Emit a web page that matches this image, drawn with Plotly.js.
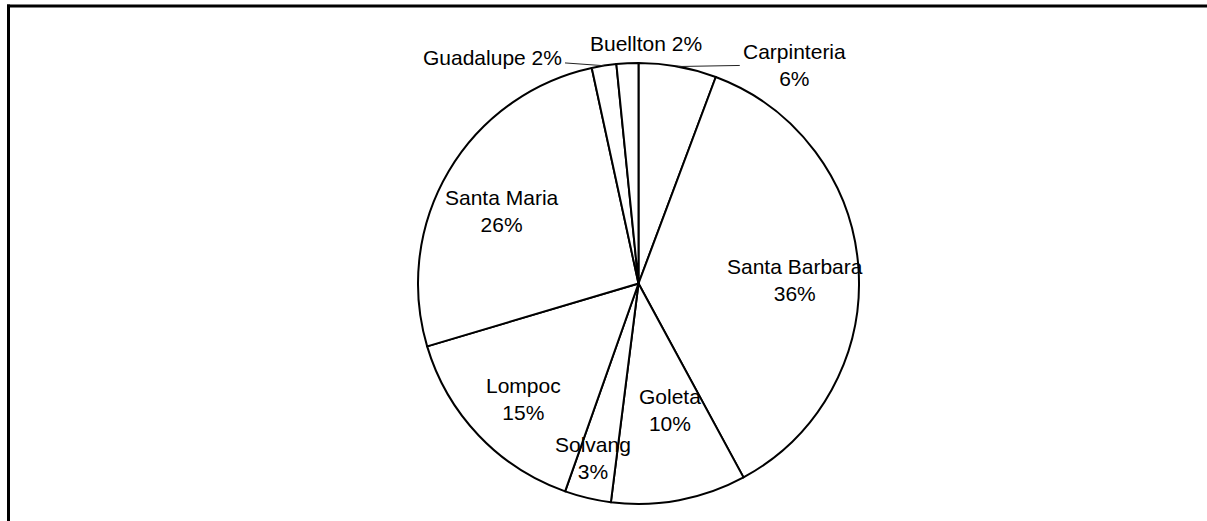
<!DOCTYPE html>
<html>
<head>
<meta charset="utf-8">
<script src="https://cdn.plot.ly/plotly-3.0.1.min.js"></script>
<style>html,body{margin:0;padding:0;background:#fff;}#chart{width:1207px;height:521px;}</style>
</head>
<body>
<div id="chart"></div>
<script>
// ---- data ----
const cities = ['Carpinteria', 'Santa Barbara', 'Goleta', 'Solvang', 'Lompoc', 'Santa Maria', 'Guadalupe', 'Buellton'];
const shares = [5.7, 36.4, 9.9, 3.4, 15.0, 26.2, 1.8, 1.6];

// ---- label placement style (not data) ----
// 'in': text at fraction of radius along slice middle; 'lead': leader line with pixel offset; 'near': offset, no line
const labelMode     = ['lead', 'in', 'in', 'in', 'in', 'in', 'leadInline', 'near'];
const labelRadius   = [1, 0.71, 0.59, 0.82, 0.74, 0.70, 1, 1];
const labelAngleAdj = [0, 2.8, -3.6, 1.3, -1.5, -2.5, 0, 0];
const labelOffX     = [117, 0, 0, 0, 0, 0, -112, 19];
const labelOffY     = [-2, 0, 0, 0, 0, 0, -8, -20];

const W = 1207, H = 521;
const cx = 638.5, cy = 283.5, R = 220.5;
const domX = [(cx - R) / W, (cx + R) / W];
const domY = [1 - (cy + R) / H, 1 - (cy - R) / H];

const total = shares.reduce((a, b) => a + b, 0);
const pct = shares.map(v => Math.round(v / total * 100) + '%');

const annotations = [];
let cum = 0;
shares.forEach((v, i) => {
  const a0 = cum / total * 360;
  cum += v;
  const a1 = cum / total * 360;
  const midDeg = (a0 + a1) / 2;
  const mid = midDeg * Math.PI / 180;
  const fontObj = {family: 'Liberation Sans, Arial, sans-serif', size: 21, color: '#000'};
  if (labelMode[i] === 'in') {
    const la = (midDeg + labelAngleAdj[i]) * Math.PI / 180;
    const px = cx + labelRadius[i] * R * Math.sin(la);
    const py = cy - labelRadius[i] * R * Math.cos(la);
    annotations.push({
      xref: 'paper', yref: 'paper', x: px / W, y: 1 - py / H,
      text: cities[i] + '<br>' + pct[i], showarrow: false,
      xanchor: 'center', yanchor: 'middle', font: fontObj
    });
  } else {
    const tx = cx + R * Math.sin(mid);
    const ty = cy - R * Math.cos(mid);
    const txt = labelMode[i] === 'lead' ? cities[i] + '<br>' + pct[i] : cities[i] + ' ' + pct[i];
    if (labelMode[i] === 'near') {
      annotations.push({
        xref: 'paper', yref: 'paper', x: tx / W, y: 1 - ty / H,
        xshift: labelOffX[i], yshift: -labelOffY[i],
        text: txt, showarrow: false, xanchor: 'center', yanchor: 'middle', font: fontObj
      });
    } else {
      annotations.push({
        xref: 'paper', yref: 'paper', x: tx / W, y: 1 - ty / H,
        ax: labelOffX[i], ay: labelOffY[i],
        text: txt, showarrow: true, arrowhead: 0, arrowwidth: 1, arrowcolor: '#222',
        standoff: 0, startstandoff: 2, font: fontObj
      });
    }
  }
});

const trace = {
  type: 'pie',
  labels: cities,
  values: shares,
  sort: false,
  direction: 'clockwise',
  rotation: 0,
  textinfo: 'none',
  textposition: 'none',
  hoverinfo: 'none',
  marker: {colors: cities.map(() => '#ffffff'), line: {color: '#000', width: 2}},
  domain: {x: domX, y: domY},
  showlegend: false
};

const layout = {
  width: W, height: H,
  margin: {l: 0, r: 0, t: 0, b: 0},
  paper_bgcolor: '#fff',
  showlegend: false,
  annotations: annotations,
  shapes: [
    {type: 'line', xref: 'paper', yref: 'paper', x0: 8.5 / W, x1: 8.5 / W, y0: 0, y1: 1 - 4.5 / H, line: {color: '#000', width: 3}},
    {type: 'line', xref: 'paper', yref: 'paper', x0: 7 / W, x1: 1, y0: 1 - 6 / H, y1: 1 - 6 / H, line: {color: '#000', width: 3}}
  ]
};

Plotly.newPlot('chart', [trace], layout, {displayModeBar: false, staticPlot: true});
</script>
</body>
</html>
